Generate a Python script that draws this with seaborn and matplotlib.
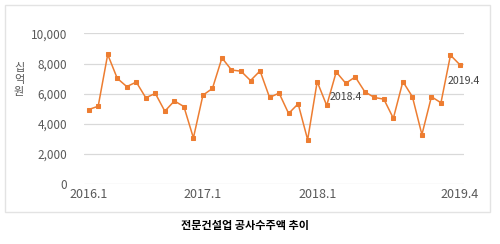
import matplotlib
matplotlib.use("Agg")
import matplotlib.pyplot as plt
import seaborn as sns
import pandas as pd
from matplotlib.patches import Rectangle

months = [f"{y}.{m}" for y in (2016, 2017, 2018) for m in range(1, 13)] + [f"2019.{m}" for m in range(1, 5)]
values = [4950, 5170, 8600, 7020, 6470, 6770, 5730, 6020, 4840, 5520,
          5150, 3070, 5900, 6350, 8370, 7570, 7490, 6870, 7510, 5750,
          6040, 4690, 5330, 2950, 6800, 5220, 7440, 6690, 7110, 6130,
          5750, 5640, 4370, 6800, 5800, 3290, 5800, 5400, 8550, 7910]
tick_labels = ["2016.1", "2017.1", "2018.1", "2019.4"]
annotated = ["2018.4", "2019.4"]
y_label = "십억원"
title = "전문건설업 공사수주액 추이"

sns.set_theme(style="white")
plt.rcParams['font.family'] = ['Noto Sans CJK KR', 'DejaVu Sans']

df = pd.DataFrame({"month": months, "value": values})
df["idx"] = range(len(df))

fig = plt.figure(figsize=(5, 2.44), dpi=100)
fig.patch.set_facecolor("white")
fig.patches.append(Rectangle((5/500, 1 - 212/244), 485/500, 207/244,
                             transform=fig.transFigure, fill=False,
                             edgecolor="#e3e3e3", linewidth=1))
ax = fig.add_axes([84/500, 59.7/244, 380/500, 151.0/244])

sns.lineplot(data=df, x="idx", y="value", ax=ax, color="#ED7D31",
             linewidth=1.1, marker="s", markersize=3.0,
             markeredgecolor="#ED7D31", zorder=3)

ax.set_ylim(0, 10000)
ax.set_xlim(-0.49, 39.42)
ax.set_yticks(range(0, 10001, 2000))
ax.set_yticklabels([f"{v:,}" for v in range(0, 10001, 2000)],
                   fontsize=8.5, color="#595959")
tick_pos = [months.index(t) for t in tick_labels]
ax.set_xticks(tick_pos)
ax.set_xticklabels(tick_labels, fontsize=9, color="#595959")
ax.tick_params(axis="both", length=0)
ax.tick_params(axis="x", pad=3)
ax.tick_params(axis="y", pad=12)
ax.grid(axis="y", color="#d9d9d9", linewidth=0.9)
ax.grid(axis="x", visible=False)
for s in ax.spines.values():
    s.set_visible(False)
ax.set_xlabel("")
ax.set_ylabel("")

# stacked vertical axis title
fig.text(19/500, 1 - 80/244, "\n".join(y_label), ha="center", va="center",
         fontsize=8, color="#595959", linespacing=1.25)

offsets = {"2018.4": (0, -14), "2019.4": (4, -16)}
for lab in annotated:
    i = months.index(lab)
    ax.annotate(lab, (i, values[i]), xytext=offsets[lab], textcoords="offset pixels",
                ha="center", va="center", fontsize=7.6, color="#404040", zorder=4)

fig.text(245/500, 1 - 225/244, title, ha="center", va="center",
         fontsize=8, fontweight="bold", color="#000000")

fig.savefig("out.png", dpi=100, facecolor="white")
